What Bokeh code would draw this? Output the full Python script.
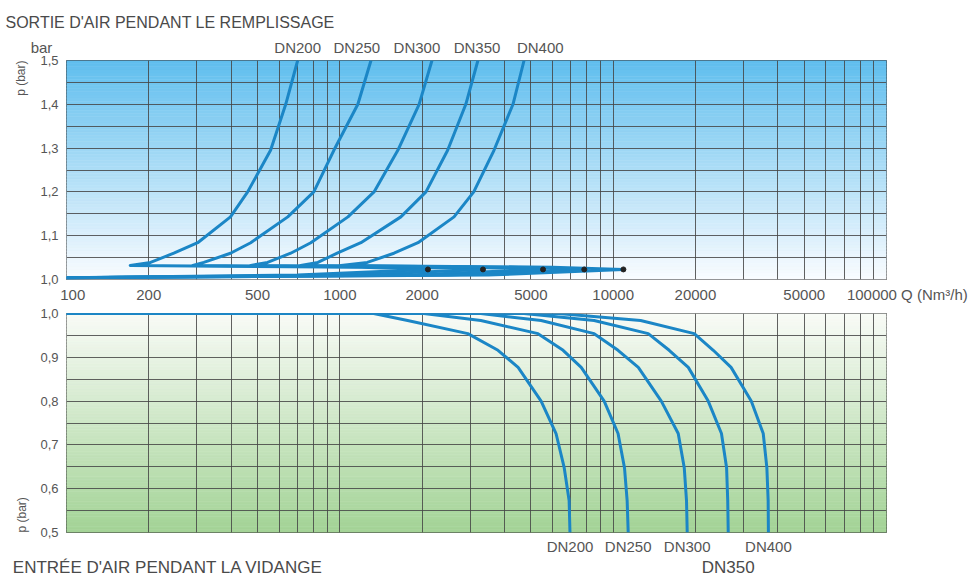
import numpy as np
from bokeh.plotting import figure
from bokeh.models import (Range1d, FixedTicker, CustomJSTickFormatter, LogAxis, Title)
from bokeh.layouts import column
from bokeh.embed import file_html
from bokeh.resources import INLINE

FONT = "Liberation Sans"
CURVE = "#1b86c6"
GRID = "#454545"
TXT = "#555555"
NB = "\u00a0"

dn_names = ["DN200", "DN250", "DN300", "DN350", "DN400"]

# ---- Remplissage (air outlet while filling): Q (Nm3/h), p (bar)
fill_p = [1.004, 1.010, 1.023, 1.028, 1.032, 1.039, 1.060, 1.084, 1.143, 1.200, 1.295, 1.400, 1.500]
fill_q_dn200 = [100, 700, 2100, 1200, 171, 203, 247, 302, 398, 460, 558, 634, 701]
fill_q_dn250 = [100, 1100, 3340, 1900, 290, 318, 398, 472, 645, 803, 951, 1164, 1300]
fill_q_dn300 = [100, 1800, 5540, 3000, 472, 544, 661, 783, 1071, 1334, 1630, 1950, 2173]
fill_q_dn350 = [100, 2500, 7840, 4200, 719, 831, 978, 1194, 1672, 2066, 2480, 2890, 3200]
fill_q_dn400 = [100, 3500, 10900, 6000, 1010, 1260, 1578, 1932, 2617, 3090, 3664, 4300, 4720]
fill_q = [fill_q_dn200, fill_q_dn250, fill_q_dn300, fill_q_dn350, fill_q_dn400]

# closing points
dot_q = [2100, 3340, 5540, 7840, 10900]
dot_p = [1.023, 1.023, 1.023, 1.023, 1.023]

# ---- Vidange (air inlet while draining)
drain_p = [1.0, 1.0, 0.984, 0.954, 0.916, 0.877, 0.800, 0.726, 0.648, 0.573, 0.500]
drain_q_dn200 = [100, 1330, 1770, 2940, 3790, 4490, 5450, 6180, 6620, 6900, 6950]
drain_q_dn250 = [100, 2030, 3280, 5310, 6560, 7640, 9270, 10420, 11000, 11250, 11350]
drain_q_dn300 = [100, 3280, 5450, 8520, 10420, 12360, 15000, 17300, 18200, 18550, 18660]
drain_q_dn350 = [100, 4720, 8520, 13440, 16030, 18830, 22270, 24900, 26000, 26250, 26360]
drain_q_dn400 = [100, 6300, 12600, 19800, 23240, 27000, 32000, 35400, 36500, 36900, 36980]
drain_q = [drain_q_dn200, drain_q_dn250, drain_q_dn300, drain_q_dn350, drain_q_dn400]

x_tick_vals = [100, 200, 500, 1000, 2000, 5000, 10000, 20000, 50000, 100000]
x_tick_text = [NB * 3 + "100", "200", "500", "1000", "2000", "5000", "10000",
               "20000", "50000", NB * 10 + "100000 Q (Nm\u00b3/h)"]
top_y_ticks = [1.0, 1.1, 1.2, 1.3, 1.4, 1.5]
bot_y_ticks = [0.5, 0.6, 0.7, 0.8, 0.9, 1.0]

top_title = "SORTIE D'AIR PENDANT LE REMPLISSAGE"
bot_title = "ENTR\u00c9E D'AIR PENDANT LA VIDANGE"

# label anchors along Q (first row above the top panel: unit + DN names)
top_label_q = [100, 701, 1154, 1914, 3176, 5410]
top_label_names = ["bar" + NB * 12] + dn_names
bot_label_q = [6950, 11350, 18660, 36980]
bot_label_names = ["DN200", "DN250", "DN300", "DN400"]
bot_label2_q = [235, 26360]
bot_label2_names = [bot_title, "DN350"]

grid_x = [m * 10 ** e for e in range(2, 5) for m in range(1, 10)] + [100000]
top_grid_y = list(np.round(np.arange(1.0, 1.5001, 0.05), 3))
bot_grid_y = list(np.round(np.arange(0.5, 1.0001, 0.05), 3))

W = 976
fmt_comma = CustomJSTickFormatter(code="return tick.toFixed(1).replace('.', ',');")


def name_fmt(qs, names):
    return CustomJSTickFormatter(args=dict(qs=qs, names=names), code="""
        for (let i = 0; i < qs.length; i++) {
            if (Math.abs(qs[i] - tick) <= 1e-6 * qs[i]) return names[i];
        }
        return '';""")


def lerp(c0, c1, t):
    return "#%02x%02x%02x" % tuple(int(round(a + (b - a) * t)) for a, b in zip(c0, c1))


def gradient(p, y0, y1, c_at_y0, c_at_y1, n=70):
    ys = np.linspace(y0, y1, n + 1)
    cols = [lerp(c_at_y0, c_at_y1, (i + 0.5) / n) for i in range(n)]
    r = p.quad(left=100, right=100000, bottom=ys[:-1], top=ys[1:],
               fill_color=cols, line_color=cols, line_width=0.6)
    r.level = "image"


def plain_axis(ax, size="15px", standoff=6, color=TXT):
    ax.axis_line_color = None
    ax.major_tick_line_color = None
    ax.minor_tick_line_color = None
    ax.major_tick_out = 0
    ax.major_tick_in = 0
    ax.minor_tick_out = 0
    ax.major_label_text_font = FONT
    ax.major_label_text_font_size = size
    ax.major_label_text_color = color
    ax.major_label_standoff = standoff


def style(p, gy, yticks):
    p.outline_line_color = "#3a3a3a"
    p.outline_line_width = 1
    p.border_fill_color = "white"
    p.xgrid.ticker = FixedTicker(ticks=grid_x)
    p.ygrid.ticker = FixedTicker(ticks=gy)
    p.grid.grid_line_color = GRID
    p.grid.grid_line_alpha = 0.85
    p.grid.grid_line_width = 1
    ax = p.yaxis[0]
    ax.ticker = FixedTicker(ticks=yticks)
    ax.formatter = fmt_comma
    plain_axis(ax, "13px", 8)


def side_title(text, align, standoff):
    return Title(text=text, align=align, offset=0, text_font=FONT,
                 text_font_size="12px", text_font_style="normal",
                 text_color=TXT, standoff=standoff)


# ================= TOP =================
top = figure(width=W, height=305, x_axis_type="log",
             x_range=Range1d(100, 100000), y_range=Range1d(1.0, 1.5),
             output_backend="svg", toolbar_location=None,
             min_border_left=66, min_border_right=90,
             min_border_top=60, min_border_bottom=25)
gradient(top, 1.5, 1.0, (95, 190, 238), (250, 252, 255))
style(top, top_grid_y, top_y_ticks)
xa = top.xaxis[0]
xa.ticker = FixedTicker(ticks=x_tick_vals)
xa.formatter = name_fmt(x_tick_vals, x_tick_text)
plain_axis(xa, "15px", 6)

dn_axis_top = LogAxis(ticker=FixedTicker(ticks=top_label_q),
                      formatter=name_fmt(top_label_q, top_label_names))
plain_axis(dn_axis_top, "15px", 5)
top.add_layout(dn_axis_top, "above")
top.add_layout(Title(text=top_title, align="left", offset=-61, text_font=FONT,
                     text_font_size="16px", text_font_style="normal",
                     text_color="#4a4a4a", standoff=10), "above")
top.add_layout(side_title("p (bar)", "right", 19), "left")

for q in fill_q:
    top.line(q, fill_p, line_width=3, line_color=CURVE, line_join="round")
top.scatter(dot_q, dot_p, size=5, color="#222222")

# ================= BOTTOM =================
bot = figure(width=W, height=275, x_axis_type="log",
             x_range=Range1d(100, 100000), y_range=Range1d(0.5, 1.0),
             output_backend="svg", toolbar_location=None,
             x_axis_location=None,
             min_border_left=66, min_border_right=90,
             min_border_top=8, min_border_bottom=48)
gradient(bot, 1.0, 0.5, (249, 251, 247), (163, 211, 150))
style(bot, bot_grid_y, bot_y_ticks)
bot.add_layout(side_title("p (bar)", "left", 17), "left")

for q in drain_q:
    bot.line(q, drain_p, line_width=3, line_color=CURVE, line_join="round")

dn_axis_bot = LogAxis(ticker=FixedTicker(ticks=bot_label_q),
                      formatter=name_fmt(bot_label_q, bot_label_names))
plain_axis(dn_axis_bot, "15px", 5)
bot.add_layout(dn_axis_bot, "below")
dn_axis_bot2 = LogAxis(ticker=FixedTicker(ticks=bot_label2_q),
                       formatter=name_fmt(bot_label2_q, bot_label2_names))
plain_axis(dn_axis_bot2, "17px", 0, "#4a4a4a")
bot.add_layout(dn_axis_bot2, "below")

layout = column(top, bot, spacing=0)
open("out.html", "w").write(file_html(layout, INLINE))
